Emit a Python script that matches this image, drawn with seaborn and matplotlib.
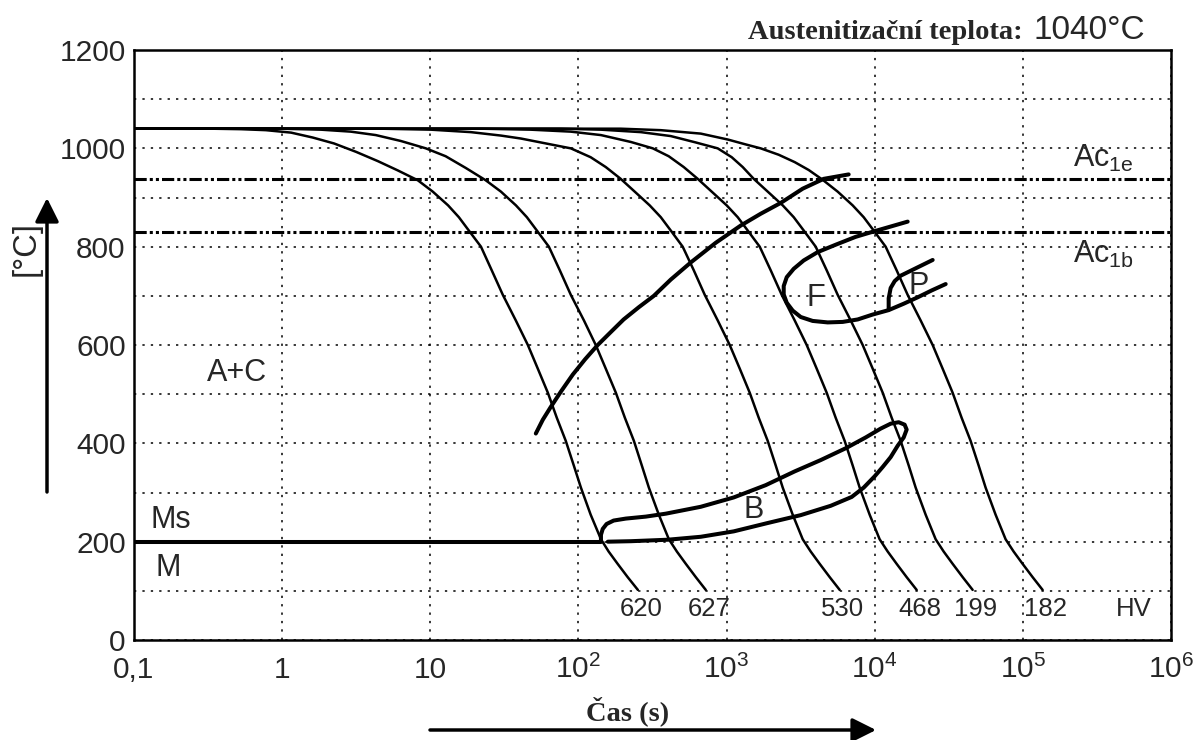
import matplotlib
matplotlib.use("Agg")
import matplotlib.pyplot as plt
import seaborn as sns
from matplotlib.ticker import MultipleLocator, NullLocator

# ARA diagram - anizotermicky rozpad austenitu
# ochlazovaci krivky: cas (s) a teplota (°C), konecna tvrdost HV
cas_620 = [0.1, 0.331, 0.527, 0.777, 1.15, 1.61, 2.24, 3.15, 4.43, 6.05, 8.25, 10.4, 13.2, 15.6, 18.2, 22.0,
           26.0, 30.9, 37.8, 45.6, 53.2, 62.2, 71.5, 82.2, 93.1, 104, 121, 142, 160, 184, 215, 252]
tep_620 = [1040, 1040, 1039, 1037, 1032, 1022, 1010, 993, 974, 955, 935, 912, 884, 860, 833, 800,
           752, 702, 650, 600, 552, 503, 452, 405, 355, 310, 255, 205, 180, 155, 128, 102]

cas_627 = [0.1, 0.98, 1.83, 2.91, 4.29, 6.33, 9.34, 12.7, 17.4, 23.7, 30.0, 37.9, 44.9, 52.4, 63.2, 74.9,
           88.9, 109, 131, 153, 179, 206, 237, 268, 299, 349, 408, 462, 531, 620, 724]
tep_627 = [1040, 1040, 1038, 1034, 1027, 1015, 1000, 984, 960, 935, 912, 884, 860, 833, 800, 752,
           702, 650, 600, 552, 503, 452, 405, 355, 310, 255, 205, 180, 155, 128, 102]

cas_530 = [0.1, 4.64, 10.1, 18.8, 30.0, 40.9, 60.3, 88.9, 121, 153, 193, 240, 303, 360, 420, 506,
           601, 713, 872, 1051, 1228, 1434, 1650, 1897, 2148, 2395, 2796, 3267, 3700, 4254, 4969, 5804]
tep_530 = [1040, 1040, 1038, 1033, 1026, 1020, 1010, 1000, 982, 962, 938, 912, 884, 860, 833, 800,
           752, 702, 650, 600, 552, 503, 452, 405, 355, 310, 255, 205, 180, 155, 128, 102]

cas_468 = [0.1, 22.0, 47.7, 88.9, 142, 226, 318, 407, 514, 639, 794, 1003, 1190, 1389, 1675, 1987,
           2358, 2885, 3477, 4060, 4743, 5456, 6273, 7105, 7920, 9248, 10800, 12240, 14070, 16430, 19200]
tep_468 = [1040, 1040, 1038, 1034, 1027, 1013, 1000, 984, 962, 938, 912, 884, 860, 833, 800, 752,
           702, 650, 600, 552, 503, 452, 405, 355, 310, 255, 205, 180, 155, 128, 102]

cas_199 = [0.1, 76.1, 142, 264, 420, 620, 872, 1084, 1286, 1526, 1897, 2396, 2842, 3318, 3999, 4744,
           5630, 6889, 8303, 9695, 11330, 13030, 14980, 16970, 18910, 22080, 25800, 29220, 33600, 39250, 45840]
tep_199 = [1040, 1040, 1038, 1033, 1025, 1012, 1000, 982, 962, 938, 912, 884, 860, 833, 800, 752,
           702, 650, 600, 552, 503, 452, 405, 355, 310, 255, 205, 180, 155, 128, 102]

cas_182 = [0.1, 193, 360, 670, 1019, 1348, 1701, 2250, 2886, 3586, 4458, 5626, 7106, 8430, 9841, 11860,
           14070, 16700, 20430, 24630, 28750, 33590, 38640, 44430, 50320, 56090, 65500, 76520, 86680,
           99650, 116400, 136000]
tep_182 = [1040, 1040, 1037, 1030, 1018, 1008, 1000, 987, 972, 956, 936, 912, 884, 860, 833, 800,
           752, 702, 650, 600, 552, 503, 452, 405, 355, 310, 255, 205, 180,
           155, 128, 102]

# oblasti premen (tlusty cary)
ferit_cas = [51.6, 57.5, 65.1, 76.1, 91.7, 111, 135, 165, 202, 256, 323, 420, 574, 846, 1247, 1701, 2321,
             3267, 4529, 6676]
ferit_tep = [420, 448, 474, 505, 540, 571, 600, 626, 652, 677, 700, 733, 768, 808, 843, 867, 889,
             918, 938, 947]

fsmycka_cas = [16700, 12820, 9846, 7438, 5455, 4125, 3318, 2841, 2549, 2432, 2432, 2549, 2797, 3168,
               3815, 4818, 6083, 7680, 9694, 12430, 15700, 19500, 24240, 30150]
fsmycka_tep = [851, 841, 831, 820, 804, 789, 772, 755, 738, 720, 703, 686, 670, 657,
               649, 646, 647, 652, 662, 671, 684, 697, 711, 724]

perlit_cas = [12430, 12430, 12820, 13650, 14980, 17770, 24630]
perlit_tep = [672, 695, 716, 730, 741, 752, 773]

bainit_cas = [142, 142, 146, 155, 173, 209, 285, 389, 670, 1118, 1839, 2886, 4322, 6373, 8695, 10980,
              12820, 14520, 15930, 16440, 15700, 14290, 12820, 11330, 10000, 8431, 6996, 5049, 3168,
              1897, 1118, 670, 401, 226, 158]
bainit_tep = [201, 214, 226, 236, 243, 247, 251, 257, 271, 290, 315, 343, 366, 390, 412, 430,
              440, 443, 438, 428, 412, 395, 372, 352, 333, 310, 291, 273, 254,
              238, 221, 210, 204, 201, 200]

ms_cas = [0.1, 142]
ms_tep = [200, 200]

ac1e = 938
ac1b = 830

x_ticks = [0.1, 1, 10, 100, 1e3, 1e4, 1e5, 1e6]
x_labels = ['0,1', '1', '10', r'$\mathregular{10^{2}}$', r'$\mathregular{10^{3}}$',
            r'$\mathregular{10^{4}}$', r'$\mathregular{10^{5}}$', r'$\mathregular{10^{6}}$']
y_ticks = [0, 200, 400, 600, 800, 1000, 1200]

sns.set_style("white")
plt.rcParams['font.family'] = ['Liberation Sans', 'DejaVu Sans']
plt.rcParams['mathtext.fontset'] = 'custom'
plt.rcParams['mathtext.rm'] = 'Liberation Sans'
plt.rcParams['mathtext.it'] = 'Liberation Sans:italic'

fig = plt.figure(figsize=(11.94, 7.40), dpi=100)
ax = fig.add_axes([0.1122, 0.1351, 0.8685, 0.7973])
ax.set_xscale('log')

krivky = [(cas_620, tep_620, '620'), (cas_627, tep_627, '627'), (cas_530, tep_530, '530'),
          (cas_468, tep_468, '468'), (cas_199, tep_199, '199'), (cas_182, tep_182, '182')]
for cas, tep, hv in krivky:
    sns.lineplot(x=cas, y=tep, ax=ax, color='black', lw=1.8, sort=False, estimator=None)
    ax.text(cas[-1] * 1.05, 64, hv, ha='center', va='center', fontsize=18.5)
ax.text(5.6e5, 64, 'HV', ha='center', va='center', fontsize=18.5)

for cas, tep in [(ferit_cas, ferit_tep), (fsmycka_cas, fsmycka_tep), (perlit_cas, perlit_tep),
                 (bainit_cas, bainit_tep), (ms_cas, ms_tep)]:
    sns.lineplot(x=cas, y=tep, ax=ax, color='black', lw=2.9, sort=False, estimator=None,
                 solid_capstyle='round', solid_joinstyle='round')

for t in (ac1e, ac1b):
    ax.axhline(t, color='black', lw=2.2, ls=(0, (4, 1, 1, 1, 1, 1)))

# popisky oblasti
ax.text(0.495, 543, 'A+C', fontsize=22, ha='center', va='center')
ax.text(0.178, 244, 'Ms', fontsize=22, ha='center', va='center')
ax.text(0.169, 146, 'M', fontsize=22, ha='center', va='center')
ax.text(4000, 696, 'F', fontsize=22, ha='center', va='center')
ax.text(19800, 720, 'P', fontsize=22, ha='center', va='center')
ax.text(1528, 264, 'B', fontsize=22, ha='center', va='center')
ax.text(2.17e5, 962, r'Ac$_{\mathregular{1e}}$', fontsize=22, ha='left', va='baseline')
ax.text(2.17e5, 767, r'Ac$_{\mathregular{1b}}$', fontsize=22, ha='left', va='baseline')

ax.set_xlim(0.1, 1e6)
ax.set_ylim(0, 1200)
ax.set_xticks(x_ticks)
ax.set_xticklabels(x_labels)
ax.xaxis.set_minor_locator(NullLocator())
ax.set_yticks(y_ticks)
ax.yaxis.set_minor_locator(MultipleLocator(100))
ax.grid(True, which='both', axis='y', color='black', lw=1.1, ls=(0, (1.5, 4)))
ax.grid(True, which='major', axis='x', color='black', lw=1.1, ls=(0, (1.5, 4)))
ax.tick_params(axis='both', length=0, labelsize=21.5)
ax.tick_params(axis='y', pad=6)
ax.tick_params(axis='x', pad=27)
for lab in ax.get_xticklabels():
    lab.set_va('baseline')
for s in ax.spines.values():
    s.set_color('black')
    s.set_linewidth(1.8)
ax.set_xlabel('')
ax.set_ylabel('')

# titulek a popisy os
fig.text(748 / 1194, 1 - 39 / 740, 'Austenitizační teplota:', family='Liberation Serif',
         fontweight='bold', fontsize=20.5, va='baseline', ha='left')
fig.text(1033 / 1194, 1 - 39 / 740, '1040°C', fontsize=24, va='baseline', ha='left')
fig.text(628 / 1194, 1 - 711 / 740, 'Čas (s)', family='Liberation Serif', fontweight='bold',
         fontsize=20.5, ha='center', va='center')
fig.text(26 / 1194, 1 - 249 / 740, '[°C]', rotation=90, fontsize=23.5, ha='center', va='center')

sipka = dict(arrowstyle='-|>,head_length=0.9,head_width=0.45', lw=2.5, color='black',
             mutation_scale=16, shrinkA=0, shrinkB=0)
ax.annotate('', xy=(47 / 1194, 1 - 198 / 740), xytext=(47 / 1194, 1 - 492 / 740),
            xycoords='figure fraction', textcoords='figure fraction', arrowprops=sipka)
ax.annotate('', xy=(876 / 1194, 1 - 730 / 740), xytext=(430 / 1194, 1 - 730 / 740),
            xycoords='figure fraction', textcoords='figure fraction', arrowprops=sipka)

fig.savefig('out.png', dpi=100)
